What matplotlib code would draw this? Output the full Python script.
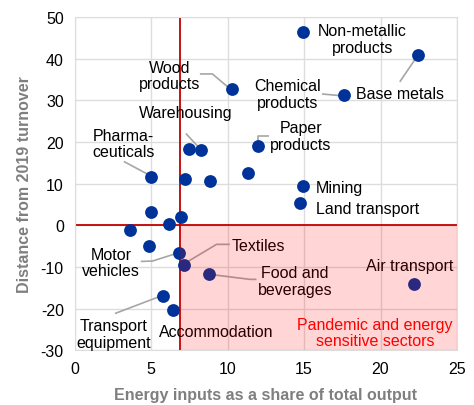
import matplotlib.pyplot as plt
from matplotlib.patches import Rectangle

plt.rcParams['font.family'] = ['Liberation Sans', 'DejaVu Sans']
plt.rcParams['axes.unicode_minus'] = False

# sector data: energy share of output (%) vs distance from 2019 turnover (%)
energy_share = [14.9, 22.45, 17.6, 10.25, 7.47, 8.28, 11.97, 5.0, 7.2, 8.85,
                11.33, 14.9, 14.76, 4.95, 6.93, 6.17, 3.6, 4.86, 6.8, 7.13,
                8.76, 5.76, 6.43, 22.17]
turnover_gap = [46.3, 40.9, 31.2, 32.6, 18.3, 18.1, 19.0, 11.6, 11.2, 10.6,
                12.6, 9.5, 5.3, 3.2, 2.0, 0.2, -1.1, -4.9, -6.7, -9.6,
                -11.7, -17.0, -20.4, -14.0]

energy_threshold = 6.9

# labels: text, (x, y) of text, alignment, leader polyline
labels = [
    ("Non-metallic\nproducts", (18.8, 44.7), "center", None),
    ("Base metals", (18.4, 31.7), "left", [(21.26, 34.4), (22.39, 40.5)]),
    ("Chemical\nproducts", (13.9, 31.5), "center", [(16.17, 31.5), (17.33, 31.1)]),
    ("Wood\nproducts", (6.17, 36.0), "center", [(8.18, 36.3), (9.0, 36.3), (10.03, 33.1)]),
    ("Warehousing", (7.23, 27.1), "center", [(7.26, 22.0), (8.18, 18.4)]),
    ("Paper\nproducts", (14.8, 21.4), "center", [(12.01, 20.1), (12.01, 21.5), (12.71, 21.5)]),
    ("Pharma-\nceuticals", (3.2, 19.7), "center", [(3.2, 15.3), (4.73, 12.3)]),
    ("Mining", (15.77, 9.05), "left", None),
    ("Land transport", (15.8, 4.1), "left", None),
    ("Motor\nvehicles", (2.36, -8.9), "center", [(4.31, -8.7), (5.08, -8.6), (6.54, -6.9)]),
    ("Textiles", (10.25, -4.8), "left", [(7.08, -9.4), (9.27, -4.6), (10.14, -4.6)]),
    ("Food and\nbeverages", (14.4, -13.4), "center", [(8.83, -11.8), (11.45, -13.0), (11.88, -13.0)]),
    ("Air transport", (21.9, -9.6), "center", None),
    ("Accommodation", (9.26, -25.6), "center", None),
    ("Transport\nequipment", (2.53, -26.1), "center", [(2.62, -21.2), (5.56, -17.1)]),
]

fig = plt.figure(figsize=(4.74, 4.06), dpi=100)
ax = fig.add_axes([0.158, 0.135, 0.806, 0.821])

ax.set_xlim(0, 25)
ax.set_ylim(-30, 50)
ax.set_xticks(range(0, 26, 5))
ax.set_yticks(range(-30, 51, 10))
ax.grid(True, color='#DDDDDD', lw=1.0, zorder=0)
ax.set_axisbelow(True)
for s in ax.spines.values():
    s.set_color('#DDDDDD')
ax.tick_params(length=0, labelsize=11.5, pad=8, colors='black')

ax.scatter(energy_share, turnover_gap, s=85, color='#003399', zorder=3, linewidths=0)

ax.axvline(energy_threshold, color='#C00000', lw=1.3, zorder=2)
ax.axhline(0, color='#C00000', lw=1.3, zorder=2)

for txt, (tx, ty), ha, leader in labels:
    ax.text(tx, ty, txt, ha=ha, va='center', fontsize=11.5, linespacing=1.1, zorder=4)
    if leader:
        lx, ly = zip(*leader)
        ax.plot(lx, ly, color='#A6A6A6', lw=1.2, zorder=2.5, solid_capstyle='butt')

# pink overlay for the sensitive quadrant
ax.add_patch(Rectangle((energy_threshold, -30), 25 - energy_threshold, 30,
                       facecolor='red', alpha=0.165, edgecolor='none', zorder=5))
ax.text(19.63, -25.8, "Pandemic and energy\nsensitive sectors", color='#FF0000',
        ha='center', va='center', fontsize=11.5, linespacing=1.1, zorder=6)

ax.set_xlabel("Energy inputs as a share of total output", fontsize=11.5,
              fontweight='bold', color='#7F7F7F', labelpad=8)
ax.set_ylabel("Distance from 2019 turnover", fontsize=11.5,
              fontweight='bold', color='#7F7F7F', labelpad=6)

fig.savefig("out.png", dpi=100)
